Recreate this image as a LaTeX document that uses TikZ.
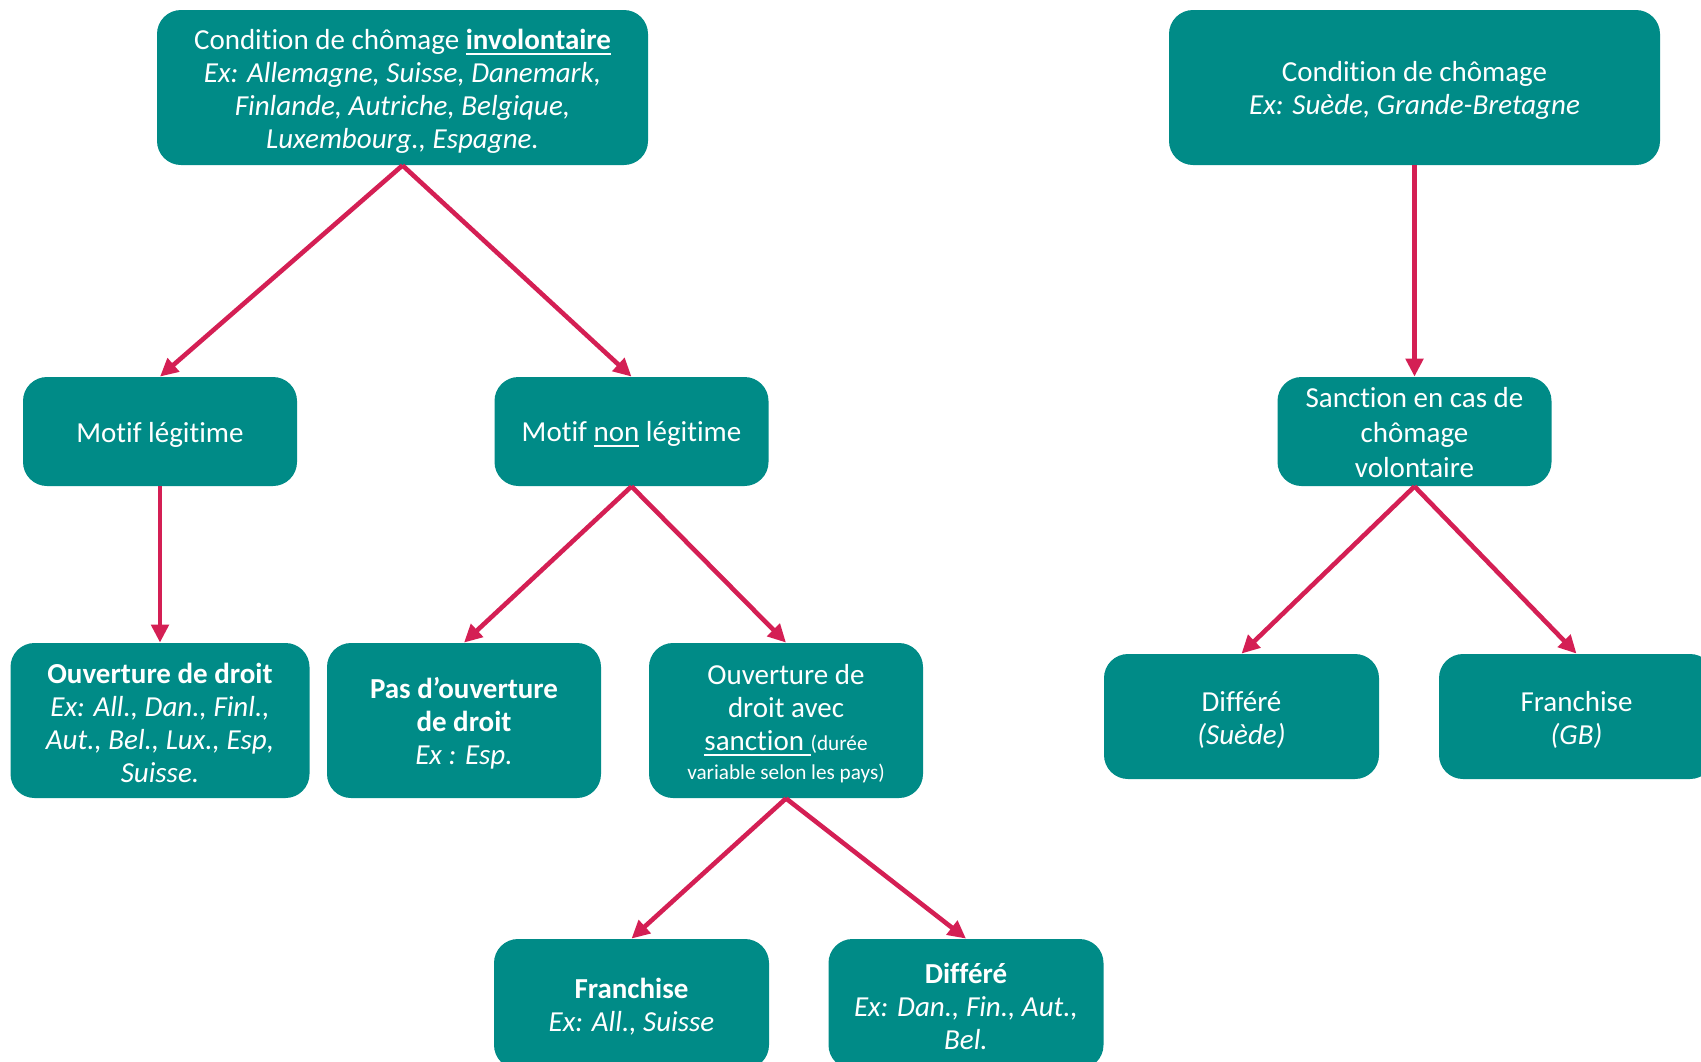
\documentclass[tikz,border=0pt]{standalone}
\usepackage{fontspec}
\setmainfont[Ligatures=NoCommon]{Carlito}
\usetikzlibrary{arrows.meta}
\definecolor{boxteal}{RGB}{0,139,135}
\definecolor{arrred}{RGB}{212,31,84}
\newcommand{\myul}[1]{\vtop{\hbox{#1}\kern1.6pt\hrule height 0.9pt}}
\begin{document}
\begin{tikzpicture}[x=0.5pt,y=-0.5pt,
  box/.style={fill=boxteal, rounded corners=12pt, inner sep=0pt},
  txt/.style={text=white, align=center, inner sep=0pt,
    font=\fontsize{14.5pt}{16.5pt}\selectfont},
  arr/.style={draw=arrred, line width=2.3pt, -{Triangle[length=9pt,width=8.6pt]}},
]
\useasboundingbox (0,0) rectangle (1701,1061);
\clip (0,0) rectangle (1701,1061);
% boxes
\node[box, minimum width=245.5pt, minimum height=77.5pt] (A) at (402.5,87.5) {};
\node[box, minimum width=137pt, minimum height=54.5pt] (C) at (160,431.5) {};
\node[box, minimum width=137pt, minimum height=54.5pt] (D) at (631.5,431.5) {};
\node[box, minimum width=149.5pt, minimum height=77.5pt] (F) at (160,720.5) {};
\node[box, minimum width=137pt, minimum height=77.5pt] (G) at (464,720.5) {};
\node[box, minimum width=137pt, minimum height=77.5pt] (H) at (786,720.5) {};
\node[box, minimum width=137.5pt, minimum height=65pt] (K) at (631.5,1004) {};
\node[box, minimum width=137.5pt, minimum height=65pt] (L) at (966,1004) {};
\node[box, minimum width=245.5pt, minimum height=77.5pt] (B) at (1414.5,87.5) {};
\node[box, minimum width=137pt, minimum height=54.5pt] (E) at (1414.5,431.5) {};
\node[box, minimum width=137.5pt, minimum height=62.5pt] (I) at (1241.5,716.5) {};
\node[box, minimum width=137.5pt, minimum height=62.5pt] (J) at (1576.5,716.5) {};
% texts
\node[txt] (At) at ([yshift=-1.8pt]A.center)
  {Condition de chômage \textbf{\myul{involontaire}}\\
   \textit{Ex: Allemagne, Suisse, Danemark,}\\
   \textit{Finlande, Autriche, Belgique,}\\
   \textit{Luxembourg., Espagne.}};
\node[txt] (Ct) at ([yshift=-1.5pt]C.center) {Motif légitime};
\node[txt] (Dt) at ([yshift=-1.5pt]D.center) {Motif \myul{non} légitime};
\node[txt] (Ft) at ([yshift=-1.2pt]F.center)
  {\textbf{Ouverture de droit}\\
   \textit{Ex: All., Dan., Finl.,}\\
   \textit{Aut., Bel., Lux., Esp,}\\
   \textit{Suisse.}};
\node[txt] (Gt) at ([yshift=-1.3pt]G.center)
  {\textbf{Pas d’ouverture}\\
   \textbf{de droit}\\
   \textit{Ex : Esp.}};
\node[txt] (Ht) at ([yshift=-1.8pt]H.center)
  {Ouverture de\\
   droit avec\\
   \myul{sanction\ }{\fontsize{10.6pt}{12pt}\selectfont(durée}\\[-2pt]
   {\fontsize{10.6pt}{12pt}\selectfont variable selon les pays)}};
\node[txt] (Kt) at ([yshift=-1.3pt]K.center)
  {\textbf{Franchise}\\
   \textit{Ex: All., Suisse}};
\node[txt] (Lt) at ([yshift=-1pt]L.center)
  {\textbf{Différé}\\
   \textit{Ex: Dan., Fin., Aut.,}\\
   \textit{Bel.}};
\node[txt] (Bt) at ([yshift=-1.6pt]B.center)
  {Condition de chômage\\
   \textit{Ex: Suède, Grande-Bretagne}};
\node[txt, font=\fontsize{14.5pt}{17.5pt}\selectfont] (Et) at ([yshift=-0.3pt]E.center)
  {Sanction en cas de\\
   chômage\\
   volontaire};
\node[txt] (It) at ([yshift=-1.6pt]I.center)
  {Différé\\
   \textit{(Suède)}};
\node[txt] (Jt) at ([yshift=-1.6pt]J.center)
  {Franchise\\
   \textit{(GB)}};
% connectors
\draw[arr] (A.south) -- (C.north);
\draw[arr] (A.south) -- (D.north);
\draw[arr] (C.south) -- (F.north);
\draw[arr] (D.south) -- (G.north);
\draw[arr] (D.south) -- (H.north);
\draw[arr] (H.south) -- (K.north);
\draw[arr] (H.south) -- (L.north);
\draw[arr] (B.south) -- (E.north);
\draw[arr] (E.south) -- (I.north);
\draw[arr] (E.south) -- (J.north);
\end{tikzpicture}
\end{document}
